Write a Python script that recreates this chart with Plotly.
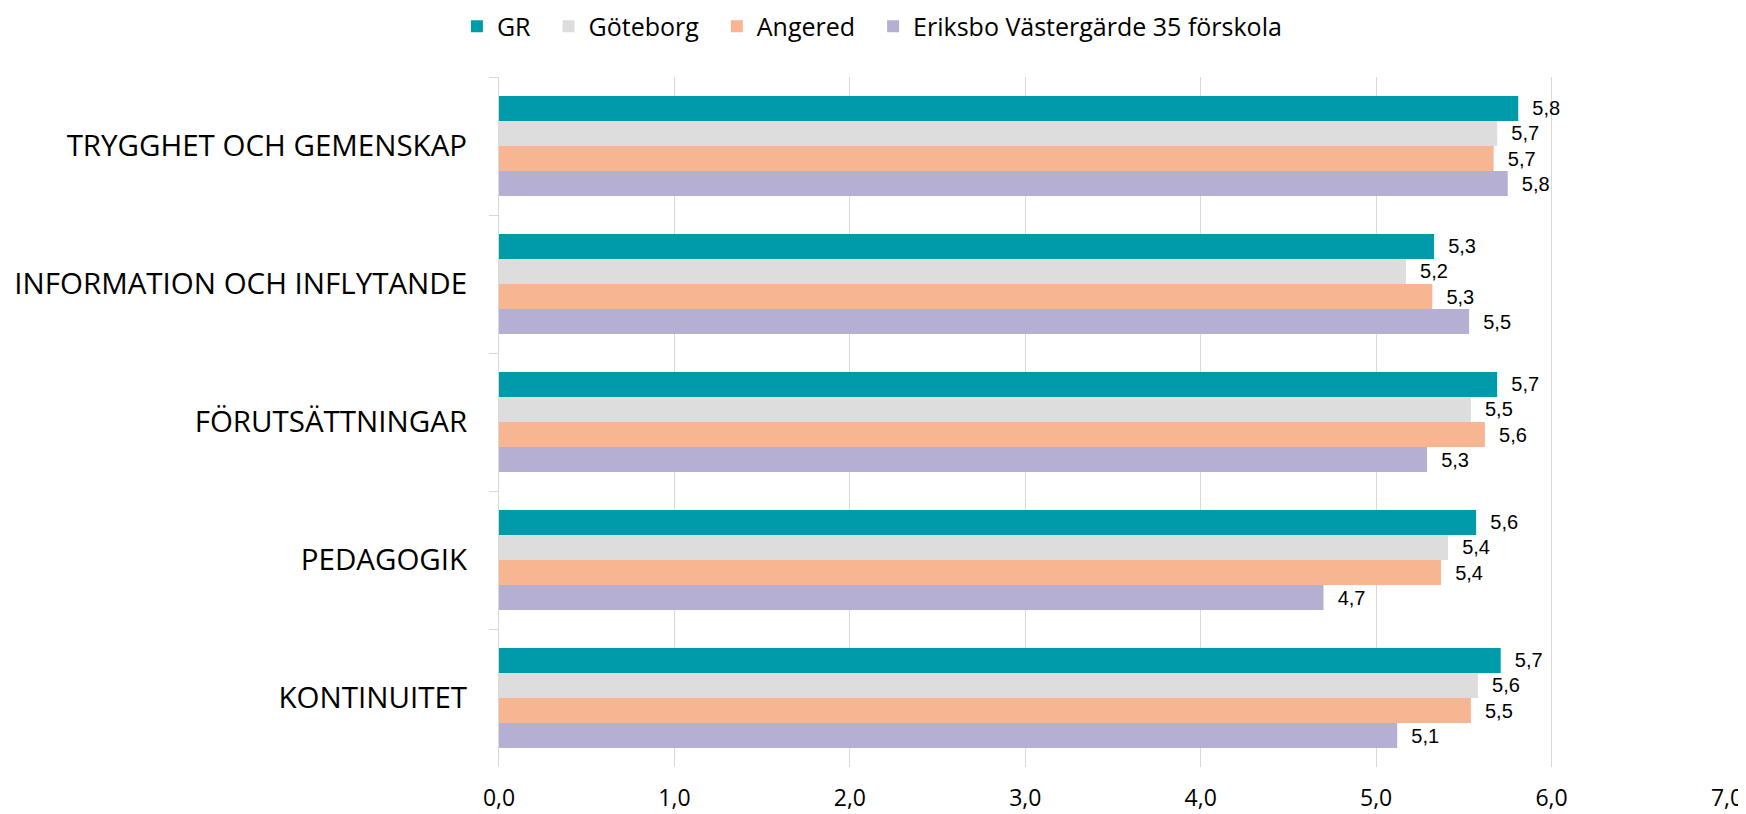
import plotly.graph_objects as go

categories = ["TRYGGHET OCH GEMENSKAP", "INFORMATION OCH INFLYTANDE", "FÖRUTSÄTTNINGAR", "PEDAGOGIK", "KONTINUITET"]
series_names = ["GR", "Göteborg", "Angered", "Eriksbo Västergärde 35 förskola"]
gr = [5.81, 5.33, 5.69, 5.57, 5.71]
goteborg = [5.69, 5.17, 5.54, 5.41, 5.58]
angered = [5.67, 5.32, 5.62, 5.37, 5.54]
eriksbo = [5.75, 5.53, 5.29, 4.70, 5.12]
colors = ["#009BAA", "#DDDDDD", "#F8B592", "#B5AFD4"]
x_ticks = [0, 1, 2, 3, 4, 5, 6, 7]

fig = go.Figure()
for i, (name, vals, col) in enumerate(zip(series_names, [gr, goteborg, angered, eriksbo], colors)):
    pad = "\u00a0\u00a0" if i < len(series_names) - 1 else ""
    fig.add_trace(go.Bar(
        y=categories, x=vals, name=name + pad, orientation="h",
        marker=dict(color=col, line=dict(width=0)),
        texttemplate="\u00a0\u00a0%{x:.1f}", textposition="outside",
        textfont=dict(family="Liberation Sans, Arial", size=20, color="#000000"),
        cliponaxis=False,
    ))

# page body adds an 8px offset, so the figure is 8px smaller than the window
fig.update_layout(
    width=1738, height=806,
    margin=dict(l=491, r=19, t=69, b=47, autoexpand=False),
    plot_bgcolor="white", paper_bgcolor="white",
    barmode="group", bargap=0.275, bargroupgap=0,
    separators=",.",
    showlegend=True,
    legend=dict(orientation="h", xref="container", yref="container",
                x=0.2583, xanchor="left", y=0.977, yanchor="middle",
                font=dict(family="Open Sans", size=25, color="#000000"),
                traceorder="normal", itemwidth=30),
    xaxis=dict(range=[0, 7], tickvals=x_ticks, tickformat=".1f",
               showgrid=True, gridcolor="#D9D9D9", gridwidth=1,
               zeroline=False, showline=False, ticks="",
               ticklabelstandoff=15, automargin=False,
               tickfont=dict(family="Open Sans", size=23, color="#000000")),
    yaxis=dict(autorange="reversed", tickson="boundaries", ticks="outside",
               ticklen=9, tickcolor="#D9D9D9", showline=True, linecolor="#D9D9D9",
               linewidth=1, showgrid=False, ticklabelstandoff=25, automargin=False,
               tickfont=dict(family="Open Sans", size=29.5, color="#000000")),
)

fig.write_html("out.html")
